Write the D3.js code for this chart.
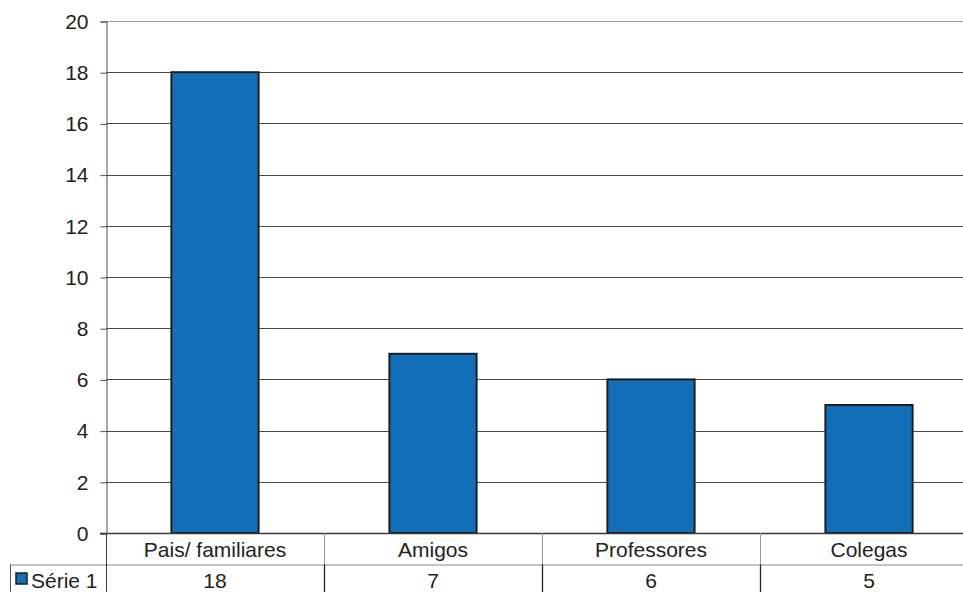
<!DOCTYPE html>
<html>
<head>
<meta charset="utf-8">
<script src="https://cdn.jsdelivr.net/npm/d3@7"></script>
<style>
  html, body { margin: 0; padding: 0; background: #fff; overflow: hidden; }
  svg { display: block; font-family: "Liberation Sans", Arial, sans-serif; }
</style>
</head>
<body>
<svg id="chart" width="963" height="592"></svg>
<script>
// Respondents by source
const categories = ["Pais/ familiares", "Amigos", "Professores", "Colegas"];
const values = [18, 7, 6, 5];
const seriesName = "Série 1";
const yTicks = [0, 2, 4, 6, 8, 10, 12, 14, 16, 18, 20];

const W = 963, H = 592;
const plotLeft = 106, plotRight = 978, plotTop = 21, zeroY = 533;
const rowH = 31.5;
const barColor = "#136fb8";
const fontSize = 21;
const fontFamily = "'Liberation Sans', Arial, sans-serif";

const svg = d3.select("#chart");

const x = d3.scaleBand().domain(categories).range([plotLeft, plotRight]).paddingInner(0).paddingOuter(0);
const y = d3.scaleLinear().domain([0, 20]).range([zeroY, plotTop]);

// horizontal gridlines
svg.append("g")
  .selectAll("line")
  .data(yTicks.filter(d => d > 0))
  .join("line")
  .attr("x1", plotLeft).attr("x2", plotRight)
  .attr("y1", d => Math.round(y(d)) + 0.5).attr("y2", d => Math.round(y(d)) + 0.5)
  .attr("stroke", d => d === 20 ? "#9a9a9a" : "#4a4a4a")
  .attr("stroke-width", 1);

// y axis with ticks pointing left
const yAxis = d3.axisLeft(y).tickValues(yTicks).tickSize(6).tickPadding(12).tickFormat(d3.format("d"));
const ya = svg.append("g").attr("transform", `translate(${plotLeft + 0.5},0.5)`).call(yAxis);
ya.attr("font-size", fontSize).attr("font-family", fontFamily);
ya.select(".domain").attr("stroke", "#4a4a4a");
ya.selectAll(".tick line").attr("stroke", "#4a4a4a");
ya.selectAll(".tick text").attr("fill", "#222");

// bars
const barW = x.bandwidth() * 0.4;
svg.append("g")
  .selectAll("rect")
  .data(values)
  .join("rect")
  .attr("x", (d, i) => x(categories[i]) + (x.bandwidth() - barW) / 2)
  .attr("y", d => y(d))
  .attr("width", barW)
  .attr("height", d => zeroY - y(d))
  .attr("fill", barColor)
  .attr("stroke", "#1e1e1e")
  .attr("stroke-width", 2);

// zero baseline
svg.append("line")
  .attr("x1", plotLeft - 6).attr("x2", plotRight)
  .attr("y1", zeroY + 0.5).attr("y2", zeroY + 0.5)
  .attr("stroke", "#3a3a3a").attr("stroke-width", 1.5);

// data table below the plot
const row1Bottom = zeroY + rowH;
const tbl = svg.append("g").attr("font-size", fontSize).attr("font-family", fontFamily);

// horizontal rule between the rows, extending under the legend cell
tbl.append("line")
  .attr("x1", 10).attr("x2", plotRight)
  .attr("y1", row1Bottom + 0.5).attr("y2", row1Bottom + 0.5)
  .attr("stroke", "#8a8a8a").attr("stroke-width", 1);

// legend cell left border
tbl.append("line")
  .attr("x1", 10.5).attr("x2", 10.5)
  .attr("y1", row1Bottom).attr("y2", H)
  .attr("stroke", "#555").attr("stroke-width", 1);

// left axis line continues down through table
tbl.append("line")
  .attr("x1", plotLeft + 0.5).attr("x2", plotLeft + 0.5)
  .attr("y1", zeroY).attr("y2", H)
  .attr("stroke", "#3a3a3a").attr("stroke-width", 1);

// column dividers
const dividers = categories.slice(1).map(c => x(c));
tbl.selectAll("line.div1")
  .data(dividers)
  .join("line")
  .attr("class", "div1")
  .attr("x1", d => Math.round(d) + 0.5).attr("x2", d => Math.round(d) + 0.5)
  .attr("y1", zeroY).attr("y2", row1Bottom)
  .attr("stroke", "#9a9a9a").attr("stroke-width", 1);
tbl.selectAll("line.div2")
  .data(dividers)
  .join("line")
  .attr("class", "div2")
  .attr("x1", d => Math.round(d) + 0.5).attr("x2", d => Math.round(d) + 0.5)
  .attr("y1", row1Bottom).attr("y2", H)
  .attr("stroke", "#222").attr("stroke-width", 1.3);

// category labels
tbl.selectAll("text.cat")
  .data(categories)
  .join("text")
  .attr("class", "cat")
  .attr("x", d => x(d) + x.bandwidth() / 2)
  .attr("y", zeroY + 24)
  .attr("text-anchor", "middle")
  .attr("fill", "#222")
  .text(d => d);

// values row
tbl.selectAll("text.val")
  .data(values)
  .join("text")
  .attr("class", "val")
  .attr("x", (d, i) => x(categories[i]) + x.bandwidth() / 2)
  .attr("y", row1Bottom + 23.5)
  .attr("text-anchor", "middle")
  .attr("fill", "#222")
  .text(d => d);

// legend key and series name
tbl.append("rect")
  .attr("x", 16).attr("y", row1Bottom + 8.5)
  .attr("width", 11).attr("height", 11)
  .attr("fill", barColor).attr("stroke", "#1e1e1e").attr("stroke-width", 1.5);
tbl.append("text")
  .attr("x", 31).attr("y", row1Bottom + 23.5)
  .attr("fill", "#222")
  .text(seriesName);
</script>
</body>
</html>
